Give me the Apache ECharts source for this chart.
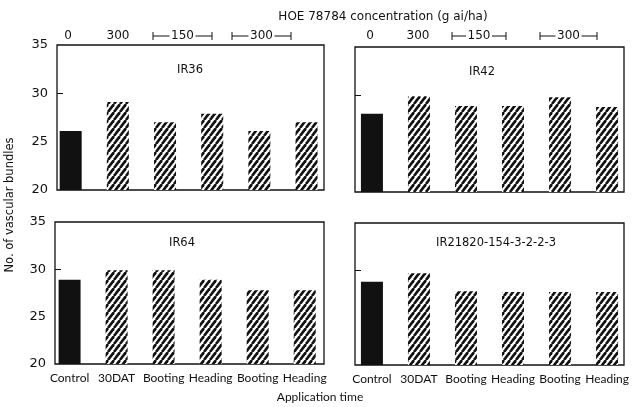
<!DOCTYPE html>
<html>
<head>
<meta charset="utf-8">
<script src="https://cdn.jsdelivr.net/npm/echarts@6/dist/echarts.min.js"></script>
<style>
  html, body { margin: 0; padding: 0; background: #fff; }
  #chart { width: 633px; height: 407px; }
</style>
</head>
<body>
<div id="chart"></div>
<script>
// 施用时期
const categories = ['Control', '30DAT', 'Booting', 'Heading', 'Booting', 'Heading']
// 浓度标签 (g ai/ha)
const concLabels = ['0', '300', '150', '300']
// 各品种维管束数
const varieties = ['IR36', 'IR42', 'IR64', 'IR21820-154-3-2-2-3']
const ir36 = [26.1, 29.1, 27.0, 27.9, 26.1, 27.0]
const ir42 = [28.1, 29.9, 28.9, 28.9, 29.8, 28.8]
const ir64 = [28.9, 29.9, 29.9, 28.9, 27.8, 27.8]
const ir21820 = [28.8, 29.7, 27.8, 27.7, 27.7, 27.7]
const yLabels = [20, 25, 30, 35]
const yTicks = [30]

const allData = [ir36, ir42, ir64, ir21820]
const font = 'DejaVu Sans'
const font2 = 'Lato'

// 斜线填充
function hatch() {
  const c = document.createElement('canvas')
  const w = 6, h = 8
  c.width = w
  c.height = h
  const ctx = c.getContext('2d')
  ctx.fillStyle = '#fff'
  ctx.fillRect(0, 0, w, h)
  ctx.strokeStyle = '#111'
  ctx.lineWidth = 2.6
  for (let k = -1; k <= 1; k++) {
    ctx.beginPath()
    ctx.moveTo(k * w, h)
    ctx.lineTo(k * w + w, 0)
    ctx.stroke()
  }
  return c
}
const pattern = { image: hatch(), repeat: 'repeat' }

// 四个面板的位置
const panels = [
  { left: 57, top: 45, width: 267, height: 145, min: -0.29, max: 5.37 },
  { left: 355, top: 47, width: 269, height: 145, min: -0.36, max: 5.36 },
  { left: 55, top: 222, width: 269, height: 142, min: -0.31, max: 5.41 },
  { left: 355, top: 223, width: 269, height: 142, min: -0.36, max: 5.36 },
]

const grid = [], xAxis = [], yAxis = [], series = []
panels.forEach(function (p, i) {
  grid.push({
    left: p.left, top: p.top, width: p.width, height: p.height,
    show: true, borderColor: '#111', borderWidth: 1.3, backgroundColor: 'transparent'
  })
  xAxis.push({
    type: 'value', gridIndex: i, min: p.min, max: p.max,
    splitLine: { show: false }, axisLine: { show: false, onZero: false }, axisTick: { show: false },
    axisLabel: {
      show: i >= 2, customValues: [0, 1, 2, 3, 4, 5],
      formatter: function (v) { return categories[Math.round(v)] },
      color: '#111', fontFamily: font2, fontSize: 12, margin: 8
    }
  })
  yAxis.push({
    type: 'value', gridIndex: i, min: 20, max: 35, interval: 5,
    splitLine: { show: false }, axisLine: { show: false, onZero: false },
    axisTick: { show: true, inside: true, length: 6, lineStyle: { color: '#111' }, customValues: yTicks },
    axisLabel: { show: i % 2 === 0, color: '#111', fontFamily: font, fontSize: 13, margin: 9, customValues: yLabels }
  })
  series.push({
    type: 'bar', xAxisIndex: i, yAxisIndex: i, barWidth: 22,
    data: allData[i].map(function (v, j) {
      return { value: [j, v], itemStyle: { color: j === 0 ? '#111' : pattern } }
    })
  })
})

const graphic = [
  { type: 'text', x: 383, y: 17, style: { text: 'HOE 78784 concentration (g ai/ha)', fontFamily: font, fontSize: 12, fill: '#111', textAlign: 'center', textVerticalAlign: 'middle' } },
  { type: 'text', x: 10, y: 205, rotation: Math.PI / 2, style: { text: 'No. of vascular bundles', fontFamily: font, fontSize: 11.5, fill: '#111', textAlign: 'center', textVerticalAlign: 'middle' } },
  { type: 'text', x: 320, y: 397, style: { text: 'Application time', fontFamily: font2, fontSize: 12, fill: '#111', textAlign: 'center', textVerticalAlign: 'middle' } },
]

// 面板标题
const titlePos = [[190, 70], [482, 72], [182, 243], [496, 243]]
varieties.forEach(function (name, i) {
  graphic.push({ type: 'text', x: titlePos[i][0], y: titlePos[i][1], style: { text: name, fontFamily: font, fontSize: 11.5, fill: '#111', textAlign: 'center', textVerticalAlign: 'middle' } })
})

// 顶部浓度标签与括号
function label(x, text) {
  graphic.push({ type: 'text', x: x, y: 36, style: { text: text, fontFamily: font, fontSize: 12, fill: '#111', textAlign: 'center', textVerticalAlign: 'middle' } })
}
function bracket(x1, x2, text) {
  const mid = (x1 + x2) / 2, gap = 13, y = 36
  label(mid, text)
  const ls = { stroke: '#111', lineWidth: 1 }
  graphic.push({ type: 'line', shape: { x1: x1, y1: y, x2: mid - gap, y2: y }, style: ls })
  graphic.push({ type: 'line', shape: { x1: mid + gap, y1: y, x2: x2, y2: y }, style: ls })
  graphic.push({ type: 'line', shape: { x1: x1, y1: y - 4, x2: x1, y2: y + 4 }, style: ls })
  graphic.push({ type: 'line', shape: { x1: x2, y1: y - 4, x2: x2, y2: y + 4 }, style: ls })
}
label(68, concLabels[0]); label(118, concLabels[1])
bracket(153, 212, concLabels[2]); bracket(232, 291, concLabels[3])
label(370, concLabels[0]); label(418, concLabels[1])
bracket(452, 506, concLabels[2]); bracket(540, 597, concLabels[3])

const myChart = echarts.init(document.getElementById('chart'))
myChart.setOption({
  animation: false,
  backgroundColor: '#fff',
  grid: grid,
  xAxis: xAxis,
  yAxis: yAxis,
  series: series,
  graphic: graphic
})
</script>
</body>
</html>
